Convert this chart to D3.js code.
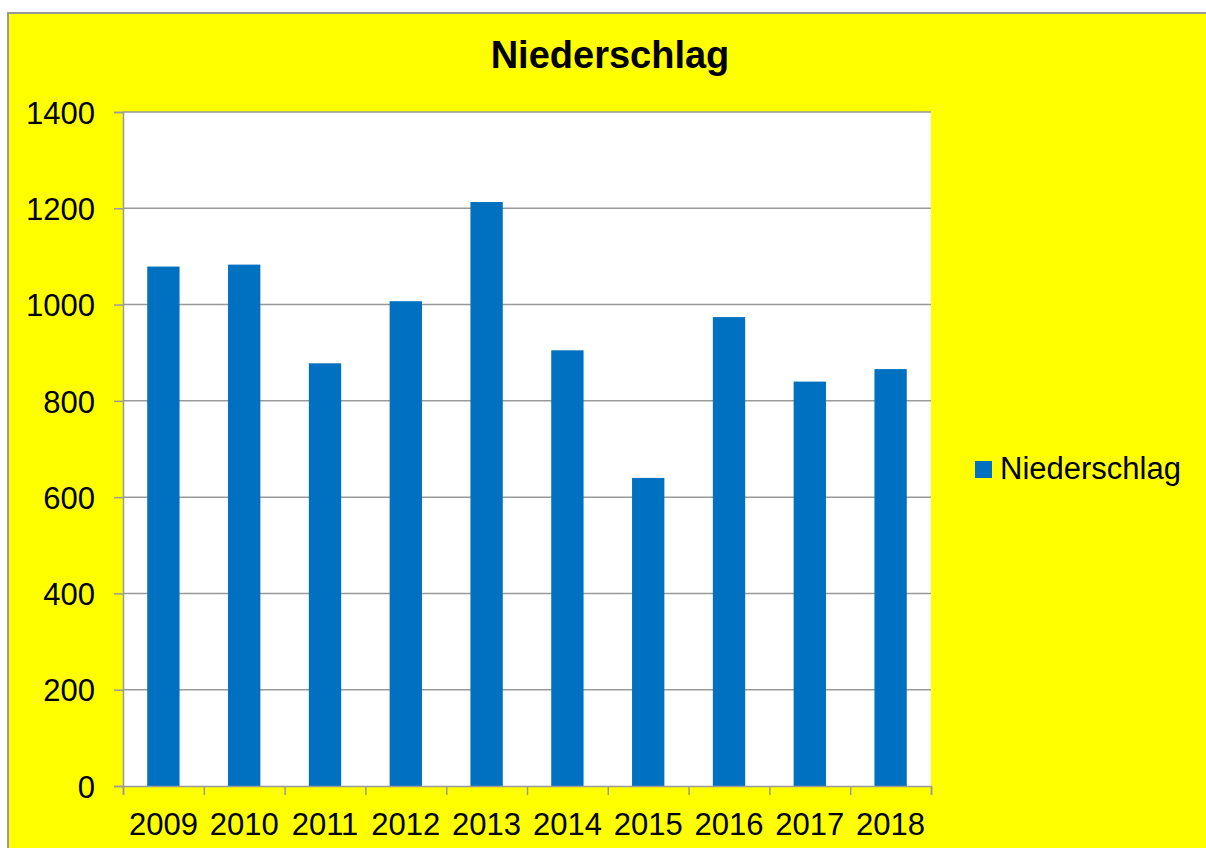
<!DOCTYPE html>
<html>
<head>
<meta charset="utf-8">
<script src="https://cdn.jsdelivr.net/npm/d3@7/dist/d3.min.js"></script>
<style>
  body { margin: 0; background: #fff; }
  text { font-family: "Liberation Sans", Arial, sans-serif; fill: #000; }
</style>
</head>
<body>
<div id="chart"></div>
<script>
// data
var years = ["2009", "2010", "2011", "2012", "2013", "2014", "2015", "2016", "2017", "2018"];
var niederschlag = [1079, 1083, 878, 1007, 1213, 905, 640, 974, 840, 866];
var yTicks = [0, 200, 400, 600, 800, 1000, 1200, 1400];
var seriesName = "Niederschlag";

var W = 1206, H = 848;
var plot = {left: 123, top: 112, right: 931, bottom: 786};

var svg = d3.select("#chart").append("svg")
    .attr("width", W)
    .attr("height", H);

// yellow chart area with grey frame (runs off the right / bottom edge)
svg.append("rect")
    .attr("x", 8).attr("y", 13)
    .attr("width", W + 20).attr("height", H + 20)
    .attr("fill", "#ffff00")
    .attr("stroke", "#999")
    .attr("stroke-width", 2);

// plot area
svg.append("rect")
    .attr("x", plot.left).attr("y", plot.top)
    .attr("width", plot.right - plot.left)
    .attr("height", plot.bottom - plot.top)
    .attr("fill", "#fff");

var x = d3.scaleBand()
    .domain(years)
    .range([plot.left, plot.right])
    .paddingInner(0.6)
    .paddingOuter(0.3);

var y = d3.scaleLinear()
    .domain([0, 1400])
    .range([plot.bottom, plot.top]);

// gridlines
svg.append("g")
    .selectAll("line")
    .data(yTicks.slice(1))
    .enter().append("line")
    .attr("x1", plot.left).attr("x2", plot.right)
    .attr("y1", function (d) { return y(d); })
    .attr("y2", function (d) { return y(d); })
    .attr("stroke", "#999")
    .attr("stroke-width", 1.5);

// bars
svg.append("g")
    .selectAll("rect")
    .data(niederschlag)
    .enter().append("rect")
    .attr("x", function (d, i) { return x(years[i]); })
    .attr("y", function (d) { return y(d); })
    .attr("width", x.bandwidth())
    .attr("height", function (d) { return plot.bottom - y(d); })
    .attr("fill", "#0070c0");

// y axis
var yAxis = d3.axisLeft(y)
    .tickValues(yTicks)
    .tickSize(9)
    .tickPadding(19)
    .tickFormat(d3.format("d"));

var gy = svg.append("g")
    .attr("transform", "translate(" + plot.left + ",0)")
    .call(yAxis);
gy.selectAll("line, path").attr("stroke", "#999").attr("stroke-width", 1.5);
gy.selectAll("text")
    .style("font-size", "31px")
    .attr("dy", "0.36em");

// x axis: ticks sit between categories
var xLin = d3.scaleLinear().domain([0, years.length]).range([plot.left, plot.right]);
var gx = svg.append("g")
    .attr("transform", "translate(0," + plot.bottom + ")")
    .call(d3.axisBottom(xLin).ticks(years.length).tickSize(9).tickFormat(""));
gx.selectAll("line, path").attr("stroke", "#999").attr("stroke-width", 1.5);

svg.append("g")
    .selectAll("text")
    .data(years)
    .enter().append("text")
    .attr("x", function (d) { return x(d) + x.bandwidth() / 2; })
    .attr("y", 835)
    .attr("text-anchor", "middle")
    .style("font-size", "31px")
    .text(function (d) { return d; });

// title
svg.append("text")
    .attr("x", 610)
    .attr("y", 68)
    .attr("text-anchor", "middle")
    .style("font-size", "38px")
    .style("font-weight", "bold")
    .text(seriesName);

// legend
var legend = svg.append("g").attr("transform", "translate(975,461)");
legend.append("rect")
    .attr("width", 17).attr("height", 17)
    .attr("fill", "#0070c0");
legend.append("text")
    .attr("x", 25)
    .attr("y", 18)
    .style("font-size", "31px")
    .text(seriesName);
</script>
</body>
</html>
